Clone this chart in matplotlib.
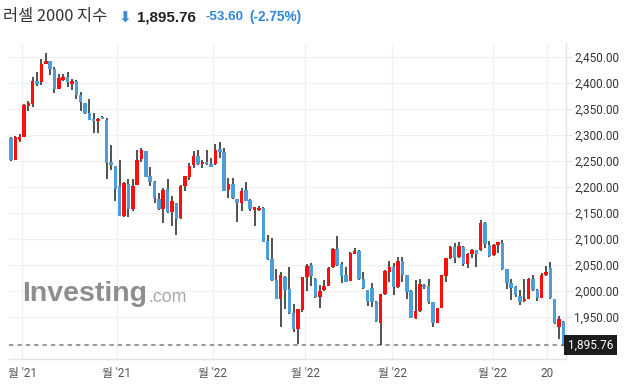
import matplotlib
matplotlib.use("Agg")
import matplotlib.pyplot as plt
import numpy as np

plt.rcParams['font.family'] = ['Roboto', 'Noto Sans CJK KR', 'DejaVu Sans']

# OHLC values (one entry per candle)
opens = [2294, 2252, 2291, 2297, 2356, 2360, 2404, 2402, 2437, 2442,
         2427, 2389, 2406, 2411, 2398, 2404, 2376, 2361, 2342, 2331,
         2326, 2335, 2329, 2248, 2240, 2202, 2145, 2206, 2158, 2204,
         2253, 2269, 2221, 2210, 2177, 2158, 2196, 2151, 2169, 2140,
         2201, 2220, 2242, 2260, 2244, 2249, 2244, 2244, 2273, 2267,
         2194, 2205, 2176, 2170, 2194, 2175, 2156, 2155, 2160, 2096,
         2061, 2021, 1985, 2027, 2003, 1957, 1927, 1964, 2026, 2050,
         2024, 1989, 2001, 2010, 2046, 2081, 2051, 2030, 2020, 2072,
         2077, 2024, 2001, 2005, 1978, 1939, 1994, 2037, 2046, 2007,
         2058, 2030, 2000, 1949, 1961, 2012, 2010, 1978, 1939, 1968,
         2028, 2063, 2085, 2065, 2085, 2052, 2072, 2078, 2078, 2130,
         2088, 2069, 2088, 2093, 2042, 2015, 2008, 1990, 1980, 1985,
         2023, 2002, 1987, 2030, 2044, 1984, 1930, 1940]
highs = [2296, 2298, 2301, 2359, 2365, 2412, 2422, 2447, 2457, 2443,
         2430, 2418, 2417, 2421, 2408, 2405, 2383, 2362, 2369, 2342,
         2333, 2337, 2333, 2281, 2241, 2252, 2210, 2215, 2215, 2271,
         2275, 2270, 2238, 2211, 2188, 2198, 2215, 2183, 2170, 2203,
         2222, 2246, 2270, 2271, 2252, 2271, 2256, 2282, 2286, 2275,
         2218, 2218, 2177, 2198, 2209, 2176, 2162, 2163, 2161, 2108,
         2101, 2042, 2037, 2029, 2046, 1975, 1966, 2027, 2052, 2053,
         2025, 2012, 2021, 2046, 2082, 2105, 2056, 2046, 2075, 2082,
         2078, 2036, 2002, 2015, 1980, 1995, 2040, 2058, 2053, 2066,
         2066, 2031, 2002, 2022, 2023, 2014, 2024, 1979, 1968, 2030,
         2064, 2087, 2092, 2095, 2086, 2074, 2081, 2079, 2137, 2133,
         2097, 2091, 2094, 2099, 2043, 2024, 2010, 2001, 2024, 2025,
         2030, 2003, 2034, 2049, 2056, 1985, 1951, 1942]
lows = [2250, 2251, 2287, 2296, 2346, 2354, 2395, 2397, 2436, 2415,
        2380, 2388, 2404, 2393, 2386, 2369, 2347, 2340, 2329, 2303,
        2303, 2330, 2215, 2233, 2174, 2144, 2143, 2142, 2154, 2203,
        2248, 2219, 2202, 2169, 2156, 2130, 2150, 2125, 2108, 2139,
        2193, 2214, 2236, 2242, 2236, 2243, 2238, 2243, 2255, 2192,
        2178, 2177, 2132, 2154, 2173, 2154, 2125, 2154, 2094, 2060,
        2020, 1984, 1930, 1965, 1955, 1922, 1899, 1959, 2000, 2010,
        1987, 1967, 2000, 2009, 2045, 2049, 2015, 2017, 2019, 2071,
        2021, 2004, 1971, 1969, 1940, 1897, 1993, 2018, 1992, 2005,
        2018, 1985, 1948, 1947, 1960, 2004, 1975, 1930, 1938, 1967,
        2017, 2062, 2053, 2064, 2048, 2045, 2063, 2047, 2077, 2082,
        2066, 2067, 2074, 2041, 2003, 1982, 1988, 1974, 1979, 1984,
        2000, 1980, 1986, 2029, 1985, 1937, 1908, 1894]
closes = [2251, 2296, 2296, 2358, 2362, 2404, 2398, 2437, 2442, 2427,
          2389, 2410, 2411, 2401, 2404, 2376, 2363, 2342, 2329, 2326,
          2331, 2330, 2246, 2242, 2197, 2145, 2207, 2158, 2202, 2252,
          2271, 2220, 2210, 2179, 2158, 2194, 2151, 2173, 2138, 2202,
          2221, 2240, 2260, 2244, 2249, 2244, 2239, 2271, 2268, 2193,
          2205, 2178, 2170, 2192, 2174, 2158, 2161, 2160, 2095, 2061,
          2021, 1985, 2031, 2001, 1957, 1927, 1965, 2026, 2048, 2028,
          1988, 2000, 2010, 2045, 2081, 2050, 2028, 2018, 2074, 2077,
          2024, 2005, 1978, 1978, 1942, 1994, 2038, 2046, 2007, 2058,
          2030, 1999, 1949, 1961, 2013, 2007, 1978, 1939, 1967, 2030,
          2063, 2085, 2064, 2087, 2051, 2072, 2078, 2072, 2130, 2090,
          2068, 2088, 2094, 2042, 2015, 2005, 1992, 1978, 1985, 2023,
          2002, 1987, 2030, 2037, 1987, 1938, 1946, 1895.76]

x_tick_labels = ["월 '21", "월 '21", "월 '22", "월 '22", "월 '22", "월 '22", "20"]
y_ticks = [1950, 2000, 2050, 2100, 2150, 2200, 2250, 2300, 2350, 2400, 2450]

title = "러셀 2000 지수"
last_price = "1,895.76"
change = "-53.60"
change_pct = "(-2.75%)"

RED = '#ff0d0d'
BLUE = '#4c9edb'
WICK = '#222222'

o = np.array(opens, dtype=float)
h = np.array(highs, dtype=float)
l = np.array(lows, dtype=float)
c = np.array(closes, dtype=float)
x = np.arange(len(o))
up = c >= o
colors = np.where(up, RED, BLUE)

fig = plt.figure(figsize=(6.3, 3.9), dpi=100)
ax = fig.add_axes([9 / 630, 1 - 359 / 390, 557 / 630, 316 / 390])

# grid
ax.set_axisbelow(True)
ax.grid(True, color='#f1f1f1', linewidth=0.9)

# wicks then bodies
ax.vlines(x, l, h, color=WICK, linewidth=1.1, zorder=2)
body_bottom = np.minimum(o, c)
body_h = np.maximum(np.abs(c - o), 3.5)
ax.bar(x, body_h, bottom=body_bottom, width=0.8, color=colors, zorder=3)

# last price dashed line + label
ax.axhline(c[-1], color='#9a9a9a', linewidth=1.4, dashes=(2.3, 2.0), zorder=1)
ax.text(1.003, c[-1], last_price, transform=ax.get_yaxis_transform(),
        ha='left', va='center', color='white', fontsize=8.5,
        bbox=dict(boxstyle='square,pad=0.3', fc='#1c1c1c', ec='none'), zorder=5,
        clip_on=False)

ax.set_xlim(-0.46, 127.6)
ax.set_ylim(1869.2, 2476.9)

ax.yaxis.tick_right()
ax.set_yticks(y_ticks)
ax.set_yticklabels([f"{v:,.2f}" for v in y_ticks])
ax.set_xticks([2.53, 24.37, 46.44, 67.6, 87.6, 110.8, 123.2])
ax.set_xticklabels(x_tick_labels)
ax.tick_params(axis='y', length=4, width=0.8, color='#e6e6e6', pad=2,
               labelsize=8.5, labelcolor='#333333')
ax.tick_params(axis='x', length=0, pad=6, labelsize=8.5, labelcolor='#555555')

for s in ['top', 'left']:
    ax.spines[s].set_visible(False)
for s in ['right', 'bottom']:
    ax.spines[s].set_color('#e3e3e3')
    ax.spines[s].set_linewidth(1.0)

# watermark
fig.text(22 / 630, 1 - 294 / 390, "Investing", fontsize=20.5, fontweight='bold',
         family='Liberation Sans', color='#8e8e8e', va='center', ha='left')
fig.text(148 / 630, 1 - 297 / 390, ".com", fontsize=12.8,
         family='Liberation Sans', color='#a8a8a8', va='center', ha='left')

# header
ty = 1 - 17 / 390
fig.text(3 / 630, ty, title, fontsize=11.8, color='#333333', va='center', ha='left',
         family=['Noto Sans CJK KR', 'DejaVu Sans'])
fig.text(119 / 630, ty - 0.003, "⬇", fontsize=11, fontweight='bold', color='#3b8ddb',
         va='center', ha='left', family='DejaVu Sans')
fig.text(137 / 630, ty, last_price, fontsize=10.9, fontweight='bold', color='#222222',
         va='center', ha='left', family='Liberation Sans')
fig.text(205 / 630, ty, change, fontsize=9.6, fontweight='bold', color='#2d87d8',
         va='center', ha='left', family='Liberation Sans')
fig.text(249 / 630, ty, change_pct, fontsize=9.8, fontweight='bold', color='#2d87d8',
         va='center', ha='left', family='Liberation Sans')

fig.savefig("out.png", dpi=100)
